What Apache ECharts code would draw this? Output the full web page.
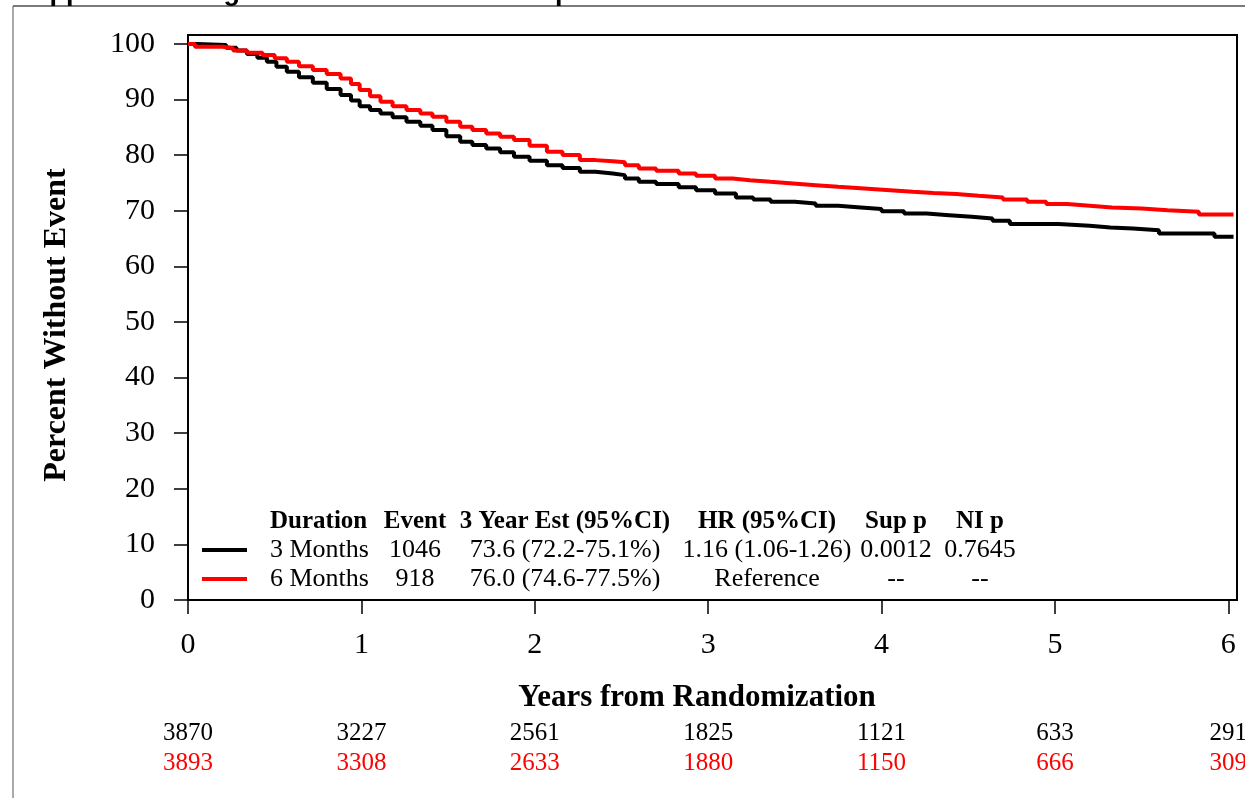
<!DOCTYPE html>
<html>
<head>
<meta charset="utf-8">
<script src="https://cdn.jsdelivr.net/npm/echarts@6/dist/echarts.min.js"></script>
<style>
  html, body { margin: 0; padding: 0; background: #fff; }
  #chart { width: 1245px; height: 798px; }
</style>
</head>
<body>
<div id="chart"></div>
<script>
// Kaplan-Meier estimates, percent without event, by treatment duration
const times3 = [0, 0.05, 0.22, 0.28, 0.34, 0.40, 0.455, 0.51, 0.57, 0.64, 0.72, 0.80, 0.88, 0.94, 0.99, 1.05, 1.11, 1.18, 1.26, 1.34, 1.41, 1.49, 1.57, 1.64, 1.72, 1.80, 1.88, 1.97, 2.07, 2.16, 2.26, 2.35, 2.45, 2.52, 2.60, 2.70, 2.83, 2.93, 3.04, 3.16, 3.26, 3.36, 3.50, 3.62, 3.75, 3.88, 4.00, 4.13, 4.26, 4.39, 4.52, 4.64, 4.74, 5.02, 5.20, 5.32, 5.45, 5.60, 5.92, 6.03];
const surv3  = [100, 99.8, 99.3, 98.8, 98.2, 97.5, 96.8, 95.9, 95.0, 94.0, 93.0, 91.9, 90.8, 89.8, 88.8, 88.1, 87.5, 86.8, 86.0, 85.3, 84.5, 83.4, 82.4, 81.8, 81.2, 80.5, 79.7, 79.0, 78.2, 77.7, 77.0, 76.7, 76.4, 75.8, 75.2, 74.8, 74.2, 73.7, 73.1, 72.4, 72.0, 71.6, 71.3, 70.9, 70.6, 70.3, 69.9, 69.5, 69.2, 68.9, 68.6, 68.2, 67.6, 67.3, 67.0, 66.8, 66.5, 65.9, 65.3, 65.3];

const times6 = [0, 0.04, 0.20, 0.26, 0.34, 0.43, 0.50, 0.57, 0.64, 0.72, 0.80, 0.88, 0.94, 0.99, 1.05, 1.11, 1.18, 1.26, 1.34, 1.41, 1.49, 1.57, 1.64, 1.72, 1.80, 1.88, 1.97, 2.07, 2.16, 2.26, 2.35, 2.45, 2.52, 2.60, 2.70, 2.83, 2.93, 3.04, 3.14, 3.24, 3.36, 3.49, 3.62, 3.75, 3.90, 4.05, 4.18, 4.30, 4.43, 4.56, 4.70, 4.84, 4.95, 5.07, 5.20, 5.33, 5.50, 5.65, 5.83, 6.03];
const surv6  = [100, 99.5, 99.2, 98.8, 98.4, 98.0, 97.4, 96.8, 96.0, 95.3, 94.6, 93.8, 92.8, 91.7, 90.6, 89.6, 88.8, 88.1, 87.5, 86.9, 86.0, 85.1, 84.5, 83.9, 83.3, 82.7, 81.7, 80.6, 80.0, 79.1, 78.9, 78.7, 78.2, 77.6, 77.2, 76.7, 76.3, 75.8, 75.5, 75.2, 74.9, 74.6, 74.3, 74.0, 73.7, 73.4, 73.2, 73.0, 72.7, 72.4, 72.0, 71.6, 71.2, 70.9, 70.6, 70.4, 70.1, 69.8, 69.3, 69.3];

// Axis ticks
const yearTicks = [0, 1, 2, 3, 4, 5, 6];
const percentTicks = [0, 10, 20, 30, 40, 50, 60, 70, 80, 90, 100];

// Numbers at risk at each year
const atRisk3 = [3870, 3227, 2561, 1825, 1121, 633, 291];
const atRisk6 = [3893, 3308, 2633, 1880, 1150, 666, 309];

// Summary table
const tableHeader = ['Duration', 'Event', '3 Year Est (95%CI)', 'HR (95%CI)', 'Sup p', 'NI p'];
const tableRow3 = ['3 Months', '1046', '73.6 (72.2-75.1%)', '1.16 (1.06-1.26)', '0.0012', '0.7645'];
const tableRow6 = ['6 Months', '918', '76.0 (74.6-77.5%)', 'Reference', '--', '--'];

const titleText = 'Supplemental Figure S4: FOLFOX-treated patients';
const xName = 'Years from Randomization';
const yName = 'Percent Without Event';

const RED = '#ff0000';
const BLACK = '#000000';
const SERIF = '"Liberation Serif", "Times New Roman", serif';

const pairs = (t, s) => t.map((v, i) => [v, s[i]]);

const chart = echarts.init(document.getElementById('chart'), null, { renderer: 'canvas' });

const axisCommon = {
  type: 'value',
  axisLine: { show: true, lineStyle: { color: BLACK, width: 2 } },
  axisTick: { show: true, inside: false, length: 14, lineStyle: { color: BLACK, width: 1.5 } },
  splitLine: { show: false },
  axisLabel: { color: BLACK, fontFamily: SERIF, fontSize: 30 }
};

chart.setOption({
  animation: false,
  backgroundColor: '#ffffff',
  grid: {
    left: 188, right: 8, top: 35, bottom: 198,
    show: true, borderColor: BLACK, borderWidth: 2, backgroundColor: 'transparent'
  },
  xAxis: Object.assign({}, axisCommon, {
    min: 0, max: 6.05,
    axisTick: Object.assign({}, axisCommon.axisTick, { customValues: yearTicks }),
    axisLabel: Object.assign({}, axisCommon.axisLabel, { customValues: yearTicks, margin: 30 })
  }),
  yAxis: Object.assign({}, axisCommon, {
    min: 0, max: 101.6,
    axisTick: Object.assign({}, axisCommon.axisTick, { customValues: percentTicks }),
    axisLabel: Object.assign({}, axisCommon.axisLabel, { customValues: percentTicks, margin: 33 })
  }),
  series: [
    {
      name: '3 Months', type: 'line', step: 'end', showSymbol: false,
      lineStyle: { color: BLACK, width: 4 }, itemStyle: { color: BLACK },
      data: pairs(times3, surv3), z: 2
    },
    {
      name: '6 Months', type: 'line', step: 'end', showSymbol: false,
      lineStyle: { color: RED, width: 4 }, itemStyle: { color: RED },
      data: pairs(times6, surv6), z: 3
    }
  ]
});

// Overlay: frame, title, axis names, summary table and numbers at risk
const g = [];

g.push({ type: 'line', shape: { x1: 13, y1: 6, x2: 1245, y2: 6 }, style: { stroke: '#7a7a7a', lineWidth: 2 }, silent: true });
g.push({ type: 'line', shape: { x1: 13, y1: 6, x2: 13, y2: 798 }, style: { stroke: '#555555', lineWidth: 1 }, silent: true });

g.push({
  type: 'text', x: 15, y: 6,
  style: { text: titleText, fill: BLACK, font: 'bold 27px "Liberation Sans", Arial, sans-serif', align: 'left', verticalAlign: 'bottom' }
});

g.push({
  type: 'text', x: 697, y: 698,
  style: { text: xName, fill: BLACK, font: 'bold 31px ' + SERIF, align: 'center', verticalAlign: 'middle' }
});
g.push({
  type: 'text', x: 57, y: 325, rotation: Math.PI / 2,
  style: { text: yName, fill: BLACK, font: 'bold 32px ' + SERIF, align: 'center', verticalAlign: 'middle' }
});

// summary table columns
const colX = [270, 415, 565, 767, 896, 980];
const colAlign = ['left', 'center', 'center', 'center', 'center', 'center'];
const rowY = [522, 550, 579];
const tableRows = [tableHeader, tableRow3, tableRow6];
tableRows.forEach((row, r) => {
  row.forEach((txt, c) => {
    g.push({
      type: 'text', x: colX[c], y: rowY[r],
      style: {
        text: txt, fill: BLACK,
        font: (r === 0 ? 'bold 25px ' : '26px ') + SERIF,
        align: colAlign[c], verticalAlign: 'middle'
      }
    });
  });
});
g.push({ type: 'line', shape: { x1: 202, y1: rowY[1], x2: 247, y2: rowY[1] }, style: { stroke: BLACK, lineWidth: 4 } });
g.push({ type: 'line', shape: { x1: 202, y1: rowY[2], x2: 247, y2: rowY[2] }, style: { stroke: RED, lineWidth: 4 } });

// numbers at risk, placed under each year tick
yearTicks.forEach((yr, i) => {
  const px = chart.convertToPixel({ xAxisIndex: 0 }, yr);
  g.push({ type: 'text', x: px, y: 733, style: { text: String(atRisk3[i]), fill: BLACK, font: '25px ' + SERIF, align: 'center', verticalAlign: 'middle' } });
  g.push({ type: 'text', x: px, y: 763, style: { text: String(atRisk6[i]), fill: RED, font: '25px ' + SERIF, align: 'center', verticalAlign: 'middle' } });
});

chart.setOption({ graphic: g });
</script>
</body>
</html>
